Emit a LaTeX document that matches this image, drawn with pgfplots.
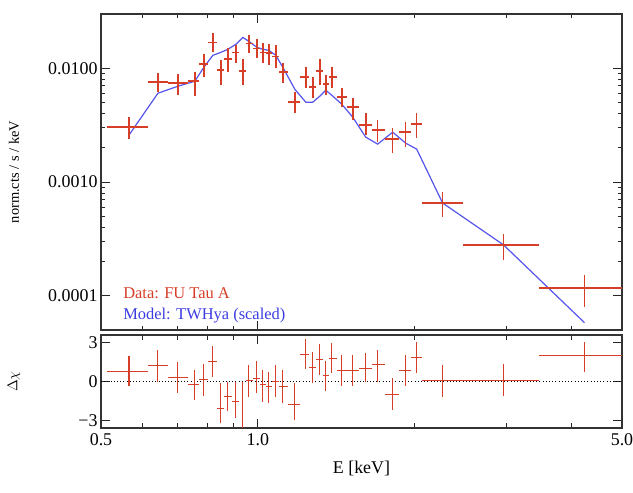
\documentclass[border=0pt]{standalone}
\usepackage{pgfplots}
\usepackage{pgfplotstable}
\usepackage{fontspec}
\setmainfont{Liberation Serif}
\pgfplotsset{compat=1.18}
\definecolor{datared}{RGB}{214,62,40}
\definecolor{modelblue}{RGB}{85,85,235}
\definecolor{textblue}{RGB}{60,60,225}

\pgfplotstableread{
E xm xp F ym yp
0.5658 0.0524 0.0496 0.00304 0.00066 0.00068
0.6431 0.0277 0.0292 0.00754 0.00138 0.00150
0.7024 0.0301 0.0317 0.00739 0.00159 0.00147
0.7571 0.0230 0.0153 0.00769 0.00201 0.00153
0.7878 0.0154 0.0159 0.01084 0.00250 0.00243
0.8198 0.0161 0.0146 0.0169 0.0031 0.0034
0.8493 0.0149 0.0132 0.0096 0.0025 0.00215
0.8759 0.0134 0.0157 0.0120 0.00278 0.00296
0.9074 0.0158 0.0142 0.0138 0.00274 0.0021
0.9359 0.0143 0.0125 0.00941 0.00231 0.00259
0.9610 0.0126 0.0172 0.01655 0.0030 0.00291
0.9957 0.0175 0.0132 0.01496 0.00271 0.00299
1.0223 0.0134 0.0137 0.0138 0.00274 0.00275
1.0498 0.0138 0.0163 0.01355 0.00293 0.0027
1.0827 0.0166 0.0169 0.01274 0.00274 0.00316
1.1168 0.0172 0.0248 0.00922 0.00183 0.00184
1.1776 0.0360 0.0288 0.00503 0.0010 0.00113
1.2361 0.0297 0.0193 0.00834 0.00166 0.00186
1.2749 0.0195 0.0199 0.00681 0.00135 0.00153
1.3149 0.0201 0.0175 0.00941 0.00231 0.00259
1.3502 0.0178 0.0180 0.00724 0.00144 0.00144
1.3864 0.0182 0.0309 0.00834 0.00166 0.00186
1.4490 0.0317 0.0356 0.00557 0.00102 0.00111
1.5211 0.0365 0.0443 0.00455 0.00105 0.00091
1.6110 0.0456 0.0432 0.00316 0.00058 0.00087
1.6986 0.0444 0.0572 0.00286 0.00062 0.00064
1.8149 0.0591 0.0528 0.00238 0.00059 0.0006
1.9221 0.0544 0.0472 0.00275 0.00072 0.00061
2.0177 0.0484 0.0451 0.00323 0.0008 0.0008
2.2628 0.2000 0.2089 0.000655 0.000162 0.000162
2.9623 0.4906 0.4959 0.00028 0.000073 0.00007
4.2362 0.7780 0.7638 0.0001175 0.0000373 0.0000355
}\datatab

\pgfplotstableread{
E F
0.5658 0.002584
0.6431 0.006035
0.7024 0.006952
0.7571 0.007691
0.7878 0.01020
0.8198 0.01300
0.8493 0.01381
0.8759 0.01468
0.9074 0.01624
0.9359 0.01870
0.9610 0.01725
0.9957 0.01528
1.0223 0.01468
1.0498 0.01438
1.0827 0.01300
1.1168 0.01020
1.1776 0.006543
1.2361 0.005031
1.2749 0.005031
1.3149 0.005682
1.3502 0.006412
1.3864 0.005798
1.4490 0.004834
1.5211 0.003717
1.6110 0.002481
1.6986 0.002154
1.8149 0.002745
1.9221 0.002198
2.0177 0.001948
2.2628 0.000654
2.9623 0.000280
4.2362 0.0000580
}\modeltab

\pgfplotstableread{
E xm xp R rm rp
0.5658 0.0524 0.0496 0.76 1.14 1.15
0.6431 0.0277 0.0292 1.22 1.22 1.15
0.7024 0.0301 0.0317 0.31 1.20 1.17
0.7571 0.0230 0.0153 -0.25 1.20 1.14
0.7878 0.0154 0.0159 0.13 1.22 1.22
0.8198 0.0161 0.0146 1.53 1.15 1.19
0.8493 0.0149 0.0132 -2.03 1.15 1.91
0.8759 0.0134 0.0157 -1.15 1.14 1.15
0.9074 0.0158 0.0142 -1.53 1.27 1.53
0.9359 0.0143 0.0125 -3.80 1.20 3.80
0.9610 0.0126 0.0172 0.08 1.23 1.19
0.9957 0.0175 0.0132 0.26 1.15 1.27
1.0223 0.0134 0.0137 -0.25 1.28 1.14
1.0498 0.0138 0.0163 -0.38 1.27 1.14
1.0827 0.0166 0.0169 0.00 1.15 1.27
1.1168 0.0172 0.0248 -0.38 1.27 1.22
1.1776 0.0360 0.0288 -1.78 1.14 1.70
1.2361 0.0297 0.0193 2.09 1.14 1.17
1.2749 0.0195 0.0199 1.10 1.22 1.19
1.3149 0.0201 0.0175 1.71 1.20 1.14
1.3502 0.0178 0.0180 0.44 1.20 1.16
1.3864 0.0182 0.0309 1.73 1.09 1.20
1.4490 0.0317 0.0356 0.84 1.22 1.20
1.5211 0.0365 0.0443 0.84 1.22 1.20
1.6110 0.0456 0.0432 1.02 1.02 1.15
1.6986 0.0444 0.0572 1.27 1.27 1.15
1.8149 0.0591 0.0528 -0.96 1.20 1.22
1.9221 0.0544 0.0472 0.82 1.20 1.22
2.0177 0.0484 0.0451 1.83 1.19 1.17
2.2628 0.2000 0.2089 0.05 1.20 1.22
2.9623 0.4906 0.4959 0.08 1.17 1.25
4.2362 0.7780 0.7638 1.96 1.20 1.09
}\restab

\begin{document}
\begin{tikzpicture}
\path[use as bounding box] (0,0) rectangle (633bp,493bp);
\pgfplotsset{
  every axis/.append style={
    scale only axis,
    anchor=south west,
    axis line style={line width=1.3bp, black!80},
    every tick/.style={black!85, line width=1bp},
    major tick length=9bp,
    minor tick length=4.5bp,
    tick align=inside,
    xmode=log, xmin=0.5, xmax=5,
    log basis x=10,
    tick label style={font=\fontsize{18}{21}\selectfont},
    /pgf/number format/assume math mode=true,
    clip=true,
  },
}
% top panel
\begin{axis}[
  at={(101bp,163bp)}, width=521bp, height=316bp,
  ymode=log, ymin=5e-5, ymax=0.03,
  xtick={0.5,1,5}, xticklabels={},
  minor xtick={0.6,0.7,0.8,0.9,2,3,4},
  ytick={0.0001,0.001,0.01},
  yticklabels={0.0001,0.0010,0.0100},
  ylabel={norm.cts / s / keV},
  ylabel style={at={(axis description cs:-0.167,0.5)}, anchor=center, font=\fontsize{14.5}{16}\selectfont},
]
\addplot[modelblue, line width=1.2bp, no markers] table[x=E, y=F] {\modeltab};
\addplot[draw=none, mark=none,
  error bars/.cd, x dir=both, x explicit, y dir=both, y explicit,
  error mark=none, error bar style={draw=datared, line width=1.6bp}]
  table[x=E, y=F, x error plus=xp, x error minus=xm, y error plus=yp, y error minus=ym] {\datatab};
\node[anchor=west, text=datared, font=\fontsize{16.5}{19}\selectfont] at (rel axis cs:0.036,0.117) {Data: FU Tau A};
\node[anchor=west, text=textblue, font=\fontsize{16.5}{19}\selectfont] at (rel axis cs:0.036,0.047) {Model: TWHya (scaled)};
\end{axis}
% bottom panel
\begin{axis}[
  at={(101bp,65bp)}, width=521bp, height=93bp,
  ymin=-3.55, ymax=3.55,
  xtick={0.5,1,5}, xticklabels={0.5,1.0,5.0},
  minor xtick={0.6,0.7,0.8,0.9,2,3,4},
  ytick={-3,0,3}, yticklabels={−3,0,3},
  xticklabel style={yshift=-2bp},
  xlabel={E [keV]},
  xlabel style={font=\fontsize{18}{21}\selectfont, yshift=-9bp},
  ylabel={$\Delta\chi$},
  ylabel style={at={(axis description cs:-0.167,0.5)}, anchor=center, font=\fontsize{14.5}{16}\selectfont},
]
\addplot[black, line width=1bp, dash pattern=on 1bp off 2.2bp, no markers] coordinates {(0.5,0) (5,0)};
\addplot[draw=none, mark=none,
  error bars/.cd, x dir=both, x explicit, y dir=both, y explicit,
  error mark=none, error bar style={draw=datared, line width=1.1bp}]
  table[x=E, y=R, x error plus=xp, x error minus=xm, y error plus=rp, y error minus=rm] {\restab};
\end{axis}
\end{tikzpicture}
\end{document}
